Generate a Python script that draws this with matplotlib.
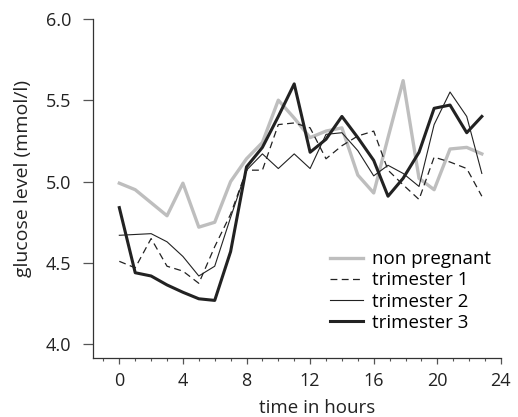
import matplotlib
matplotlib.use('Agg')
import matplotlib.pyplot as plt
from matplotlib.ticker import MultipleLocator

# time points (hours) and mean glucose per group
hours = [0, 1, 2, 3, 4, 5, 6, 7, 8, 9, 10, 11, 12, 13, 14, 15, 16,
         16.9, 17.85, 18.85, 19.8, 20.8, 21.85, 22.8]

non_pregnant = [4.99, 4.95, 4.87, 4.79, 4.99, 4.72, 4.75, 5.00, 5.14, 5.24,
                5.50, 5.39, 5.27, 5.31, 5.33, 5.04, 4.93, 5.27, 5.62, 5.02,
                4.95, 5.20, 5.21, 5.17]
trimester_1 = [4.51, 4.47, 4.65, 4.48, 4.45, 4.375, 4.60, 4.80, 5.07, 5.07,
               5.35, 5.36, 5.33, 5.14, 5.22, 5.28, 5.31, 5.07, 4.98, 4.89,
               5.15, 5.12, 5.08, 4.91]
trimester_2 = [4.67, 4.675, 4.68, 4.63, 4.54, 4.42, 4.48, 4.78, 5.07, 5.17,
               5.08, 5.17, 5.08, 5.29, 5.30, 5.19, 5.035, 5.10, 5.05, 4.97,
               5.35, 5.55, 5.40, 5.05]
trimester_3 = [4.84, 4.44, 4.42, 4.365, 4.32, 4.28, 4.27, 4.57, 5.09, 5.21,
               5.40, 5.60, 5.18, 5.26, 5.40, 5.27, 5.13, 4.91, 5.02, 5.18,
               5.45, 5.47, 5.30, 5.40]

plt.rcParams['font.family'] = ['Open Sans', 'DejaVu Sans']
tick_fs = 13
label_fs = 13.5

fig = plt.figure(figsize=(5.18, 4.17), dpi=100)
ax = fig.add_axes([0.180, 0.141, 0.787, 0.814])

ax.plot(hours, non_pregnant, color='#bebebe', lw=2.4, label='non pregnant')
ax.plot(hours, trimester_1, color='#222222', lw=0.9, dashes=(5.5, 3.5),
        label='trimester 1')
ax.plot(hours, trimester_2, color='#222222', lw=0.8, label='trimester 2')
ax.plot(hours, trimester_3, color='#222222', lw=2.2, label='trimester 3')

ax.set_xlim(-1.64, 24)
ax.set_ylim(3.915, 6.0)
ax.xaxis.set_major_locator(MultipleLocator(4))
ax.xaxis.set_minor_locator(MultipleLocator(1))
ax.yaxis.set_major_locator(MultipleLocator(0.5))
ax.yaxis.set_major_formatter(plt.FormatStrFormatter('%.1f'))

for s in ['top', 'right']:
    ax.spines[s].set_visible(False)
for s in ['left', 'bottom']:
    ax.spines[s].set_color('#333333')
    ax.spines[s].set_linewidth(0.9)

ax.tick_params(axis='y', length=7, width=0.9, color='#555555',
               labelsize=tick_fs, labelcolor='#222222', pad=9)
ax.tick_params(axis='x', which='major', length=4, width=0.9, color='#555555',
               labelsize=tick_fs, labelcolor='#222222', pad=6)
ax.tick_params(axis='x', which='minor', length=2.5, width=0.8, color='#555555')

ax.set_xlabel('time in hours', fontsize=label_fs, color='#222222',
              va='bottom')
ax.xaxis.set_label_coords(0.55, -0.172)
ax.set_ylabel('glucose level (mmol/l)', fontsize=14, color='#222222',
              va='center')
ax.yaxis.set_label_coords(-0.172, 0.528)

ax.legend(loc='upper left', bbox_to_anchor=(0.5806, 0.318), frameon=False,
          fontsize=label_fs, handlelength=1.76, handletextpad=0.46,
          labelspacing=0.17, borderpad=0, borderaxespad=0)

fig.savefig('out.png', dpi=100)
